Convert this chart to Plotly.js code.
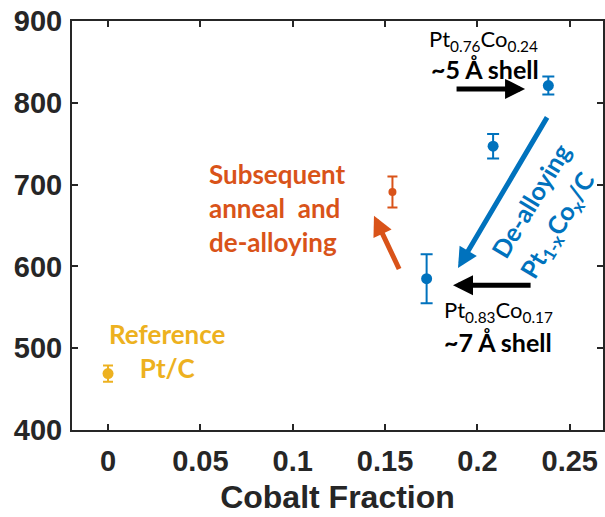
<!DOCTYPE html>
<html>
<head>
<meta charset="utf-8">
<script src="https://cdn.plot.ly/plotly-3.0.1.min.js"></script>
<style>
  html, body { margin: 0; padding: 0; background: #fff; }
  #chart { width: 605px; height: 517px; }
</style>
</head>
<body>
<div id="chart"></div>
<script>
// Cobalt fraction vs. activity for Pt and Pt-Co catalysts
const refX = [0];
const refY = [469];
const refErr = [10];

const annealX = [0.154];
const annealY = [691];
const annealErr = [19];

const ptcoX = [0.1725, 0.2085, 0.2384];
const ptcoY = [585, 747, 821];
const ptcoErr = [30, 15, 11];

const xTicks = [0, 0.05, 0.1, 0.15, 0.2, 0.25];
const xTickText = ['0', '0.05', '0.1', '0.15', '0.2', '0.25'];
const yTicks = [400, 500, 600, 700, 800, 900];

const BLUE = '#0072BD';
const ORANGE = '#D95319';
const YELLOW = '#EDB120';
const AXIS = '#262626';
const LABEL_FONT = 'Lato, "Open Sans", sans-serif';
const AXIS_FONT = '"Liberation Sans", Arial, sans-serif';

function pointTrace(x, y, err, color, size, cap) {
  return {
    type: 'scatter', mode: 'markers', x: x, y: y,
    marker: { color: color, size: size },
    error_y: { type: 'data', array: err, visible: true, color: color, thickness: 2, width: cap },
    showlegend: false, hoverinfo: 'x+y'
  };
}

const data = [
  pointTrace(refX, refY, refErr, YELLOW, 11, 5),
  pointTrace(annealX, annealY, annealErr, ORANGE, 8, 5),
  pointTrace(ptcoX, ptcoY, ptcoErr, BLUE, 11, 6)
];

function arrow(x, y, ax, ay, color) {
  return {
    x: x, y: y, ax: ax, ay: ay, xref: 'x', yref: 'y', axref: 'x', ayref: 'y',
    text: '', showarrow: true, arrowhead: 2, arrowsize: 0.8, arrowwidth: 5,
    arrowcolor: color, standoff: 0, startstandoff: 0
  };
}

function label(x, y, text, color, size, opts) {
  return Object.assign({
    x: x, y: y, xref: 'x', yref: 'y', text: text, showarrow: false,
    font: { family: LABEL_FONT, size: size, color: color },
    align: 'center'
  }, opts || {});
}

const annotations = [
  arrow(0.144, 662, 0.158, 595, ORANGE),
  arrow(0.1895, 598, 0.2382, 784, BLUE),
  arrow(0.1868, 577, 0.2296, 577, '#000'),
  arrow(0.2258, 817, 0.1879, 817, '#000'),
  label(0.0536, 671, '<b>Subsequent<br>anneal  and<br>de-alloying</b>', ORANGE, 26,
        { xanchor: 'left', align: 'left' }),
  label(0.032, 496, '<b>Reference<br>Pt/C</b>', YELLOW, 26),
  // composition and shell thickness labels
  label(0.2035, 877, 'Pt<sub>0.76</sub>Co<sub>0.24</sub>', '#000', 22),
  label(0.2040, 841, '<b>~5 Å shell</b>', '#000', 25),
  label(0.2112, 545, 'Pt<sub>0.83</sub>Co<sub>0.17</sub>', '#000', 22),
  label(0.2112, 507, '<b>~7 Å shell</b>', '#000', 25),
  label(0.2285, 680, '<b>De-alloying</b>', BLUE, 25, { textangle: -59 }),
  label(0.2436, 650, '<b>Pt<sub>1-x</sub>Co<sub>x</sub>/C</b>', BLUE, 25, { textangle: -59 })
];

const axisCommon = {
  showline: true, linecolor: AXIS, linewidth: 2, mirror: 'ticks',
  ticks: 'inside', ticklen: 6, tickwidth: 2, tickcolor: AXIS,
  showgrid: false, zeroline: false,
  tickfont: { family: AXIS_FONT, size: 29, color: AXIS, weight: 'bold' }
};

const layout = {
  width: 605, height: 517,
  margin: { l: 72, r: 2, t: 21, b: 87 },
  paper_bgcolor: '#fff', plot_bgcolor: '#fff',
  xaxis: Object.assign({}, axisCommon, {
    range: [-0.0195, 0.268], tickvals: xTicks, ticktext: xTickText,
    ticklabelstandoff: 4,
    title: { text: '<b>Cobalt Fraction</b>', standoff: 10,
             font: { family: AXIS_FONT, size: 32, color: AXIS } }
  }),
  yaxis: Object.assign({}, axisCommon, {
    range: [400, 900], tickvals: yTicks, ticklabelstandoff: 2
  }),
  annotations: annotations
};

Plotly.newPlot('chart', data, layout, { displayModeBar: false, staticPlot: true });
</script>
</body>
</html>
